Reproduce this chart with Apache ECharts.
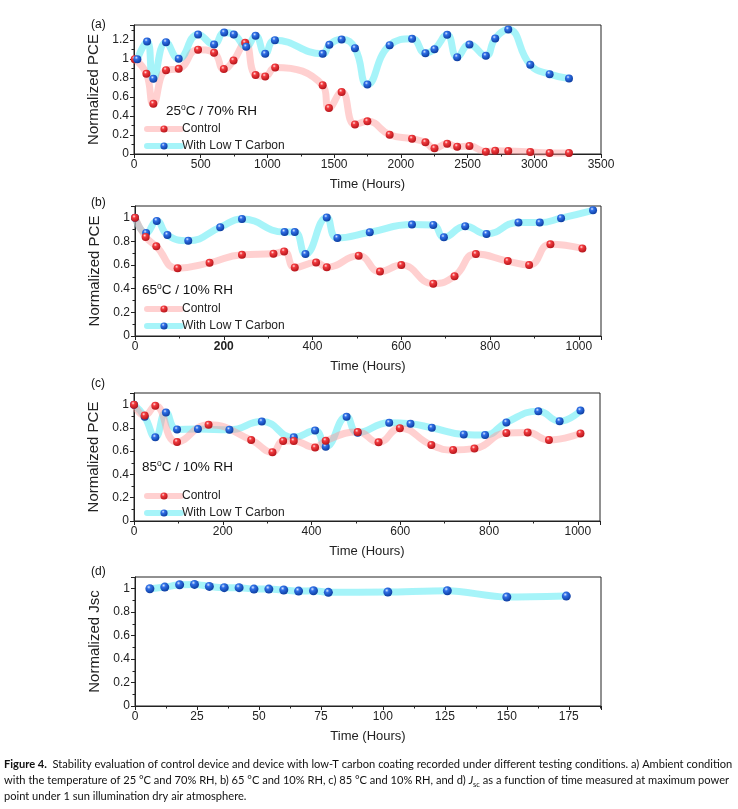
<!DOCTYPE html>
<html><head><meta charset="utf-8">
<script src="https://cdn.jsdelivr.net/npm/echarts@6/dist/echarts.min.js"></script>
<style>html,body{margin:0;padding:0;background:#fff}#c{width:738px;height:809px}</style>
</head><body><div id="c"></div>
<script>
// ---- Panel (a): 25 °C / 70% RH ----
const timeCtrlA = [5, 93, 145, 240, 335, 480, 600, 673, 746, 833, 911, 983, 1058, 1414, 1461, 1556, 1656, 1749, 1916, 2084, 2184, 2252, 2347, 2422, 2514, 2637, 2707, 2805, 2970, 3115, 3260];
const ctrlA = [1.0, 0.846, 0.53, 0.884, 0.898, 1.10, 1.067, 0.895, 0.986, 1.172, 0.832, 0.818, 0.912, 0.726, 0.484, 0.653, 0.312, 0.344, 0.204, 0.161, 0.123, 0.06, 0.109, 0.077, 0.084, 0.025, 0.035, 0.032, 0.021, 0.011, 0.011];
const timeCarbonA = [25, 98, 145, 240, 335, 480, 600, 676, 748, 841, 911, 983, 1056, 1414, 1464, 1556, 1656, 1749, 1916, 2084, 2184, 2252, 2347, 2422, 2514, 2637, 2707, 2805, 2970, 3115, 3260];
const carbonA = [1.0, 1.186, 0.793, 1.179, 1.004, 1.26, 1.154, 1.28, 1.26, 1.13, 1.246, 1.056, 1.2, 1.056, 1.151, 1.207, 1.116, 0.733, 1.147, 1.214, 1.063, 1.105, 1.256, 1.021, 1.154, 1.035, 1.218, 1.312, 0.94, 0.842, 0.796];

// ---- Panel (b): 65 °C / 10% RH ----
const timeCtrlB = [0, 24, 48, 96, 168, 241, 312, 336, 360, 408, 432, 504, 552, 600, 672, 720, 768, 840, 888, 936, 1008];
const ctrlB = [1.0, 0.838, 0.759, 0.574, 0.619, 0.688, 0.696, 0.716, 0.58, 0.622, 0.582, 0.679, 0.545, 0.6, 0.443, 0.506, 0.693, 0.634, 0.6, 0.776, 0.741];
const timeCarbonB = [0, 25, 49, 73, 120, 192, 241, 337, 360, 384, 432, 456, 529, 624, 672, 696, 744, 792, 864, 912, 960, 1032];
const carbonB = [1.0, 0.872, 0.974, 0.855, 0.807, 0.92, 0.991, 0.88, 0.88, 0.693, 1.003, 0.83, 0.878, 0.943, 0.94, 0.835, 0.929, 0.864, 0.96, 0.96, 0.997, 1.063];

// ---- Panel (c): 85 °C / 10% RH ----
const timeCtrlC = [0, 24, 48, 97, 168, 264, 312, 336, 360, 408, 432, 504, 551, 599, 670, 719, 767, 839, 887, 935, 1006];
const ctrlC = [1.0, 0.906, 0.991, 0.679, 0.827, 0.696, 0.591, 0.688, 0.688, 0.631, 0.69, 0.764, 0.676, 0.798, 0.653, 0.61, 0.622, 0.756, 0.761, 0.696, 0.753];
const timeCarbonC = [0, 24, 48, 72, 97, 144, 215, 288, 360, 408, 432, 479, 504, 575, 623, 671, 743, 791, 839, 911, 959, 1006];
const carbonC = [1.0, 0.896, 0.719, 0.932, 0.787, 0.79, 0.784, 0.855, 0.719, 0.778, 0.639, 0.895, 0.759, 0.844, 0.835, 0.801, 0.744, 0.739, 0.847, 0.943, 0.858, 0.949];

// ---- Panel (d): Jsc ----
const timeD = [6, 12, 18, 24, 30, 36, 42, 48, 54, 60, 66, 72, 78, 102, 126, 150, 174];
const jscD = [1.0, 1.014, 1.034, 1.037, 1.02, 1.009, 1.009, 0.997, 0.997, 0.989, 0.98, 0.983, 0.969, 0.972, 0.983, 0.929, 0.937];

const seriesNames = ['Control', 'With Low T Carbon'];
const conditionLabels = ['25', '65', '85'];
const panelLabels = ['(a)', '(b)', '(c)', '(d)'];

const FONT = 'Liberation Sans, Arial, sans-serif';
const pair = (xs, ys) => xs.map((x, i) => [x, ys[i]]);
const redBall = {type:'radial', x:0.38, y:0.32, r:0.7, colorStops:[{offset:0,color:'#ffe0e0'},{offset:0.3,color:'#f23a3e'},{offset:1,color:'#b3141a'}]};
const blueBall = {type:'radial', x:0.38, y:0.32, r:0.7, colorStops:[{offset:0,color:'#dbe8ff'},{offset:0.3,color:'#2f6fe6'},{offset:1,color:'#0c3b9e'}]};
const pinkLine = 'rgba(255,150,150,0.45)';
const cyanLine = 'rgba(70,232,242,0.48)';

const grids = [
  {left:134, top:25, width:467, height:129},
  {left:135, top:206, width:466, height:130},
  {left:134, top:393, width:466, height:128},
  {left:135, top:577, width:466, height:129}
];
grids.forEach(g => { g.show = true; g.borderColor = '#222'; g.borderWidth = 1; g.backgroundColor = 'transparent'; });

function xAxis(i, max, interval) {
  return {
    type:'value', gridIndex:i, min:0, max:max, interval:interval,
    name:'Time (Hours)', nameLocation:'middle', nameGap:24,
    nameTextStyle:{fontFamily:FONT, fontSize:13, color:'#222'},
    axisLine:{lineStyle:{color:'#222', width:1}},
    axisTick:{inside:false, length:4, lineStyle:{color:'#222'}},
    minorTick:{show:true, splitNumber:2, length:2.5, lineStyle:{color:'#222'}},
    splitLine:{show:false},
    axisLabel:{fontFamily:FONT, fontSize:12, color:'#222', margin:5, showMaxLabel: (max % interval === 0),
      formatter: (i === 1 ? (v => v === 200 ? '{b|200}' : String(v)) : (v => String(v))),
      rich: {b:{fontWeight:'bold', fontFamily:FONT, fontSize:12, color:'#222'}}}
  };
}
function yAxis(i, max, name) {
  return {
    type:'value', gridIndex:i, min:0, max:max, interval:0.2,
    name:name, nameLocation:'middle', nameGap:24, nameRotate:90,
    nameTextStyle:{fontFamily:FONT, fontSize:15, color:'#222'},
    axisLine:{show:true, lineStyle:{color:'#222', width:1}},
    axisTick:{show:true, inside:false, length:4, lineStyle:{color:'#222'}},
    minorTick:{show:true, splitNumber:2, length:2.5, lineStyle:{color:'#222'}},
    splitLine:{show:false},
    axisLabel:{fontFamily:FONT, fontSize:12, color:'#222', margin:5, showMaxLabel:false,
      formatter: v => (Math.abs(v*5 - Math.round(v*5)) < 1e-6 ? String(+v.toFixed(1)) : '')}
  };
}
function lineSeries(i, name, data, ball, lineColor) {
  return {
    type:'line', name:name, xAxisIndex:i, yAxisIndex:i, data:data,
    smooth:0.5, symbol:'circle', symbolSize:8, showSymbol:true,
    lineStyle:{color:lineColor, width:7, cap:'round', join:'round'},
    itemStyle:{color:ball}, emphasis:{disabled:true}, animation:false
  };
}
function legend(top) {
  return {
    data:seriesNames, left:144, top:top, orient:'vertical', itemGap:5,
    itemWidth:34, itemHeight:9, padding:0,
    lineStyle:{width:6},
    textStyle:{fontFamily:FONT, fontSize:12, color:'#222', padding:[0,0,0,-4]},
    selectedMode:false
  };
}

const series = [
  lineSeries(0, seriesNames[0], pair(timeCtrlA, ctrlA), redBall, pinkLine),
  lineSeries(0, seriesNames[1], pair(timeCarbonA, carbonA), blueBall, cyanLine),
  lineSeries(1, seriesNames[1], pair(timeCarbonB, carbonB), blueBall, cyanLine),
  lineSeries(1, seriesNames[0], pair(timeCtrlB, ctrlB), redBall, pinkLine),
  lineSeries(2, seriesNames[1], pair(timeCarbonC, carbonC), blueBall, cyanLine),
  lineSeries(2, seriesNames[0], pair(timeCtrlC, ctrlC), redBall, pinkLine),
  Object.assign(lineSeries(3, 'Jsc', pair(timeD, jscD), blueBall, cyanLine), {smooth:0.3, symbolSize:9})
];

const richCond = {
  n:{fontFamily:FONT, fontSize:13.5, color:'#111', lineHeight:17},
  s:{fontFamily:FONT, fontSize:8.5, color:'#111', verticalAlign:'top', lineHeight:17, padding:[0,0,6,0]}
};
function condText(x, y, t, rh) {
  return {type:'text', left:x, top:y, z:10, style:{text:'{n|' + t + '}{s|o}{n|C / ' + rh + '% RH}', rich:richCond, fill:'#111'}};
}
const CAP = 'Lato, sans-serif';
const captionRich = {
  t:{fontFamily:CAP, fontSize:11.1, color:'#111', lineHeight:16},
  b:{fontFamily:CAP, fontSize:11.1, fontWeight:'bold', color:'#111', lineHeight:16},
  i:{fontFamily:CAP, fontSize:11.1, fontStyle:'italic', color:'#111', lineHeight:16},
  sub:{fontFamily:CAP, fontSize:7.5, color:'#111', lineHeight:16, verticalAlign:'bottom', padding:[3,0,0,0]}
};
const caption = [
  '{b|Figure 4.}{t|  Stability evaluation of control device and device with low-T carbon coating recorded under different testing conditions. a) Ambient condition}',
  '{t|with the temperature of 25 °C and 70% RH, b) 65 °C and 10% RH, c) 85 °C and 10% RH, and d) }{i|J}{sub|sc}{t| as a function of time measured at maximum power}',
  '{t|point under 1 sun illumination dry air atmosphere.}'
].join('\n');

const graphic = [
  {type:'text', left:91, top:19, style:{text:panelLabels[0], font:'12px ' + FONT, fill:'#111'}},
  {type:'text', left:91, top:197, style:{text:panelLabels[1], font:'12px ' + FONT, fill:'#111'}},
  {type:'text', left:91, top:378, style:{text:panelLabels[2], font:'12px ' + FONT, fill:'#111'}},
  {type:'text', left:91, top:566, style:{text:panelLabels[3], font:'12px ' + FONT, fill:'#111'}},
  condText(166, 103, conditionLabels[0], '70'),
  condText(142, 282, conditionLabels[1], '10'),
  condText(142, 459, conditionLabels[2], '10'),
  {type:'text', left:4, top:759, style:{text:caption, rich:captionRich, fill:'#111'}}
];

const chart = echarts.init(document.getElementById('c'), null, {renderer:'canvas'});
chart.setOption({
  animation:false,
  backgroundColor:'#fff',
  grid:grids,
  xAxis:[xAxis(0, 3500, 500), xAxis(1, 1050, 200), xAxis(2, 1050, 200), xAxis(3, 188, 25)],
  yAxis:[yAxis(0, 1.36, 'Normalized PCE'), yAxis(1, 1.1, 'Normalized PCE'), yAxis(2, 1.1, 'Normalized PCE'), yAxis(3, 1.1, 'Normalized Jsc')],
  legend:[legend(123), legend(303), legend(490)],
  series:series,
  graphic:graphic
});
</script></body></html>
